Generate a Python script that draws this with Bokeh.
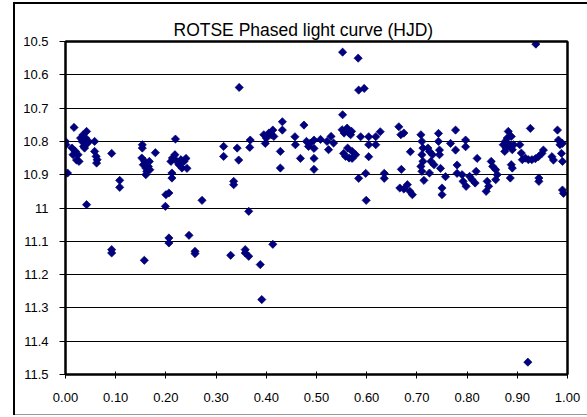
import numpy as np
from bokeh.plotting import figure
from bokeh.models import Range1d, FixedTicker, LinearAxis
from bokeh.embed import file_html
from bokeh.resources import INLINE

title_text = "ROTSE Phased light curve (HJD)"

phase = [
    0.000, 0.001, 0.004, 0.013, 0.015, 0.017, 0.020, 0.022, 0.025, 0.027,
    0.030, 0.033, 0.035, 0.036, 0.038, 0.040, 0.042, 0.042, 0.044, 0.046,
    0.058, 0.058, 0.061, 0.062, 0.063, 0.092, 0.092, 0.092, 0.108, 0.108,
    0.152, 0.153, 0.153, 0.155, 0.157, 0.158, 0.160, 0.160, 0.162, 0.165,
    0.167, 0.168, 0.179, 0.199, 0.200, 0.206, 0.206, 0.206, 0.210, 0.212,
    0.212, 0.213, 0.218, 0.219, 0.222, 0.226, 0.230, 0.232, 0.236, 0.240,
    0.242, 0.246, 0.258, 0.258, 0.272, 0.315, 0.315, 0.329, 0.335, 0.335,
    0.342, 0.345, 0.346, 0.358, 0.358, 0.365, 0.365, 0.367, 0.368, 0.388,
    0.391, 0.395, 0.398, 0.400, 0.405, 0.410, 0.413, 0.413, 0.415, 0.428,
    0.428, 0.432, 0.432, 0.457, 0.458, 0.468, 0.475, 0.480, 0.484, 0.488,
    0.495, 0.495, 0.495, 0.495, 0.508, 0.521, 0.524, 0.529, 0.534, 0.551,
    0.552, 0.552, 0.554, 0.555, 0.558, 0.561, 0.562, 0.565, 0.565, 0.568,
    0.570, 0.571, 0.571, 0.578, 0.583, 0.584, 0.584, 0.588, 0.595, 0.598,
    0.599, 0.604, 0.604, 0.604, 0.618, 0.618, 0.627, 0.635, 0.635, 0.664,
    0.666, 0.668, 0.669, 0.674, 0.674, 0.681, 0.686, 0.687, 0.691, 0.708,
    0.708, 0.710, 0.710, 0.710, 0.712, 0.712, 0.714, 0.722, 0.725, 0.725,
    0.728, 0.731, 0.734, 0.743, 0.743, 0.745, 0.745, 0.747, 0.750, 0.750,
    0.757, 0.767, 0.777, 0.777, 0.780, 0.780, 0.790, 0.792, 0.797, 0.797,
    0.798, 0.805, 0.810, 0.816, 0.818, 0.820, 0.838, 0.840, 0.843, 0.848,
    0.851, 0.857, 0.857, 0.860, 0.872, 0.875, 0.876, 0.878, 0.880, 0.882,
    0.885, 0.886, 0.888, 0.888, 0.890, 0.890, 0.893, 0.905, 0.908, 0.910,
    0.916, 0.921, 0.922, 0.926, 0.929, 0.936, 0.937, 0.942, 0.943, 0.943,
    0.949, 0.952, 0.969, 0.972, 0.980, 0.982, 0.985, 0.988, 0.990, 0.990,
    0.990, 0.992,
]

magnitude = [
    10.800, 10.810, 10.895, 10.820, 10.840, 10.758, 10.830, 10.856, 10.840, 10.860,
    10.790, 10.800, 10.780, 10.815, 10.820, 10.790, 10.770, 10.990, 10.805, 10.800,
    10.800, 10.830, 10.845, 10.865, 10.855, 10.836, 11.125, 11.135, 10.917, 10.938,
    10.850, 10.810, 10.820, 10.870, 11.157, 10.860, 10.880, 10.900, 10.890, 10.875,
    10.860, 10.885, 10.834, 10.995, 10.960, 10.955, 11.090, 11.105, 10.860, 10.895,
    10.910, 10.850, 10.840, 10.793, 10.860, 10.870, 10.855, 10.880, 10.860, 10.851,
    10.881, 11.082, 11.130, 11.137, 10.977, 10.815, 10.845, 11.142, 10.920, 10.930,
    10.820, 10.856, 10.638, 11.125, 11.135, 11.010, 11.145, 10.818, 10.796, 11.170,
    11.275, 10.780, 10.806, 10.790, 10.775, 10.780, 10.766, 11.109, 10.785, 10.830,
    10.880, 10.741, 10.766, 10.786, 10.810, 10.851, 10.751, 10.800, 10.815, 10.805,
    10.796, 10.821, 10.851, 10.884, 10.794, 10.800, 10.825, 10.785, 10.805, 10.765,
    10.532, 10.720, 10.836, 10.775, 10.845, 10.760, 10.820, 10.775, 10.850, 10.780,
    10.770, 10.830, 10.851, 10.840, 10.550, 10.646, 10.911, 10.786, 10.641, 10.896,
    10.977, 10.786, 10.810, 10.846, 10.786, 10.810, 10.771, 10.896, 10.911, 10.756,
    10.940, 10.780, 10.884, 10.775, 10.943, 10.930, 10.950, 10.831, 10.960, 10.780,
    10.875, 10.800, 10.840, 10.890, 10.820, 10.860, 10.917, 10.820, 10.830, 10.895,
    10.860, 10.840, 10.870, 10.776, 10.800, 10.826, 10.840, 10.881, 10.940, 10.960,
    10.906, 10.806, 10.766, 10.826, 10.871, 10.896, 10.900, 10.920, 10.796, 10.816,
    10.935, 10.905, 10.915, 10.925, 10.890, 10.851, 10.950, 10.920, 10.935, 10.860,
    10.875, 10.885, 10.915, 10.900, 10.810, 10.830, 10.800, 10.820, 10.790, 10.770,
    10.810, 10.910, 10.785, 10.870, 10.825, 10.880, 10.810, 10.810, 10.835, 10.855,
    10.850, 11.463, 10.855, 10.761, 10.855, 10.852, 10.508, 10.846, 10.910, 10.920,
    10.836, 10.826, 10.846, 10.856, 10.766, 10.796, 10.810, 10.836, 10.806, 10.860,
    10.946, 10.956,
]

x_ticks = [0.0, 0.1, 0.2, 0.3, 0.4, 0.5, 0.6, 0.7, 0.8, 0.9, 1.0]
x_labels = ["0.00", "0.10", "0.20", "0.30", "0.40", "0.50", "0.60", "0.70", "0.80", "0.90", "1.00"]
y_ticks = [10.5, 10.6, 10.7, 10.8, 10.9, 11.0, 11.1, 11.2, 11.3, 11.4, 11.5]
y_labels = ["10.5", "10.6", "10.7", "10.8", "10.9", "11", "11.1", "11.2", "11.3", "11.4", "11.5"]

FONT = "Liberation Sans"

p = figure(frame_width=502, frame_height=333,
           min_border_left=65, min_border_right=20, min_border_top=41, min_border_bottom=43,
           x_range=Range1d(0, 1), y_range=Range1d(11.5, 10.5),
           output_backend="svg", toolbar_location=None,
           background_fill_color="white", border_fill_color=None)

# chart-area border (Excel style), drawn behind the transparent canvas border
p.styles = {
    "background-color": "white",
    "background-image": ("linear-gradient(#000,#000), linear-gradient(#000,#000), "
                         "linear-gradient(#999,#999)"),
    "background-size": "2px 413px, 574px 2px, 574px 1px",
    "background-position": "13px 2px, 13px 2px, 13px 414px",
    "background-repeat": "no-repeat",
}

p.title.text = title_text
p.title.align = "left"
p.title.offset = 108
p.title.text_font = FONT
p.title.text_font_size = "17.5px"
p.title.text_font_style = "normal"
p.title.text_color = "black"
p.title.standoff = 3

p.outline_line_color = "black"
p.outline_line_width = 2

p.xgrid.grid_line_color = None
p.ygrid.ticker = FixedTicker(ticks=y_ticks)
p.ygrid.grid_line_color = "black"
p.ygrid.grid_line_width = 1

p.xaxis.ticker = FixedTicker(ticks=x_ticks)
p.xaxis.major_label_overrides = dict(zip(x_ticks, x_labels))
p.yaxis.ticker = FixedTicker(ticks=y_ticks)
p.yaxis.major_label_overrides = dict(zip(y_ticks, y_labels))

for ax in (p.xaxis[0], p.yaxis[0]):
    ax.axis_line_color = "black"
    ax.axis_line_width = 2
    ax.major_tick_line_color = "black"
    ax.major_tick_line_width = 1
    ax.minor_tick_line_color = None
    ax.major_label_text_font = FONT
    ax.major_label_text_font_size = "13px"
    ax.major_label_text_color = "black"

p.xaxis.major_tick_in = 3
p.xaxis.major_tick_out = 4
p.xaxis.major_label_standoff = 14
p.yaxis.major_tick_in = 0
p.yaxis.major_tick_out = 6
p.yaxis.major_label_standoff = 11

# plain border lines on the right and top of the plot area
for side in ("right", "above"):
    b = LinearAxis(major_tick_line_color=None, minor_tick_line_color=None,
                   major_label_text_font_size="0px", axis_line_color="black",
                   axis_line_width=2, ticker=FixedTicker(ticks=[]))
    p.add_layout(b, side)

p.scatter(phase, magnitude, marker="square", size=5.8, angle=np.pi / 4,
          fill_color="#000080", line_color="#00006a", line_width=0.7)

open("out.html", "w").write(file_html(p, INLINE))
